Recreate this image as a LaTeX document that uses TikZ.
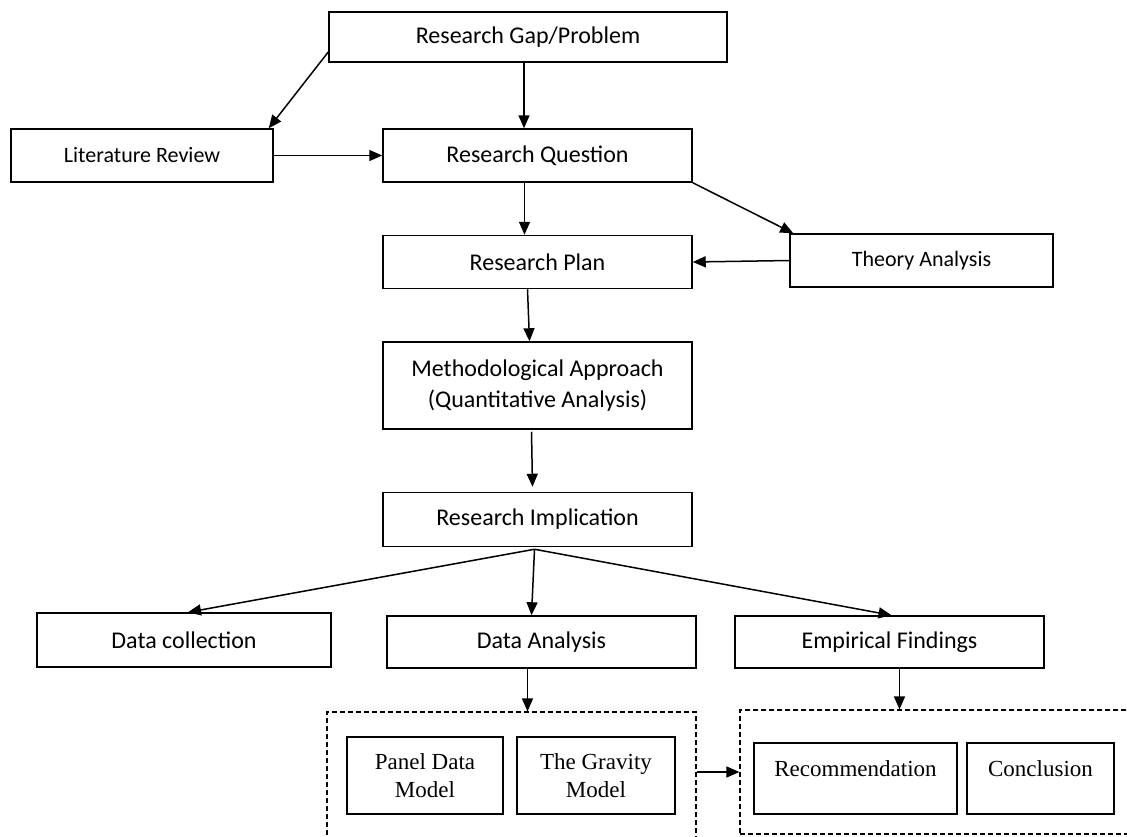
\documentclass[tikz,border=0pt]{standalone}
\usepackage{fontspec}
\setmainfont{Carlito}
\newfontfamily\serifrm{Liberation Serif}
\usetikzlibrary{positioning,arrows.meta}

\begin{document}
\begin{tikzpicture}[
        x=1pt, y=-1pt,
        mainnode/.style={rectangle, draw=black, line width=1.5pt, minimum width=309pt, minimum height=53pt, inner sep=0pt, font=\fontsize{24}{31}\selectfont, align=center},
        sidenode/.style={rectangle, draw=black, line width=1.5pt, minimum width=263pt, minimum height=53pt, inner sep=0pt, font=\fontsize{22}{27}\selectfont},
        modelnode/.style={rectangle, draw=black, line width=1.5pt, minimum height=77pt, inner sep=0pt, font=\serifrm\fontsize{23}{28}\selectfont, align=center},
        groupnode/.style={rectangle, draw=black, line width=1.2pt, dash pattern=on 5pt off 3pt, inner sep=0pt},
        arrowline/.style={-{Triangle[length=13pt,width=11pt]}, line width=1.5pt},
]
        \path[fill=white, use as bounding box] (0,0) rectangle (1127,836);

        \node[mainnode, minimum width=398pt, minimum height=50pt] (gap) at (528,37) {Research Gap/Problem};
        \node[sidenode, minimum width=262pt] (literature) at (142,155.5) {Literature Review};
        \node[mainnode] (question) at (537.5,155.5) {Research Question};
        \node[mainnode] (plan) [below=52pt of question] {Research Plan};
        \node[sidenode] (theory) at (921.5,260.5) {Theory Analysis};
        \node[mainnode, minimum height=87pt] (method) [below=52pt of plan] {Methodological Approach\\(Quantitative Analysis)};
        \node[mainnode, minimum height=54pt] (implication) [below=62pt of method] {Research Implication};
        \node[mainnode, minimum width=294pt, minimum height=54pt] (collection) at (184,640) {Data collection};
        \node[mainnode, minimum height=52pt] (analysis) at (541.5,642) {Data Analysis};
        \node[mainnode, minimum height=52pt] (findings) at (889.5,642) {Empirical Findings};

        \node[groupnode, minimum width=369pt, minimum height=128pt] (analysisgroup) at (511.5,776) {};
        \node[groupnode, minimum width=395pt, minimum height=124pt] (findingsgroup) at (937.5,772) {};

        \node[modelnode, minimum width=156pt] (panel) at (425,775.5) {Panel Data\\Model};
        \node[modelnode, minimum width=158pt] (gravity) at (596,775.5) {The Gravity\\Model};
        \node[modelnode, minimum width=203pt, minimum height=71pt, text height=16pt, text depth=21pt] (recommend) at (855.5,778.5) {Recommendation};
        \node[modelnode, minimum width=147pt, minimum height=71pt, text height=16pt, text depth=21pt] (conclusion) at (1040.5,778.5) {Conclusion};

        \draw[arrowline] ([yshift=-15pt]gap.west) -- ([xshift=-5pt]literature.north east);
        \draw[arrowline] ([xshift=-4pt]gap.south) -- ([xshift=-4pt]gap.south |- question.north);
        \draw[arrowline] (literature.east) -- (question.west);
        \draw[arrowline] ([xshift=-13pt]question.south) -- ([xshift=-13pt]plan.north);
        \draw[arrowline] (question.south east) -- ([xshift=4pt]theory.north west);
        \draw[arrowline] (theory.west) -- (plan.east);
        \draw[arrowline] ([xshift=-10pt]plan.south) -- ([xshift=-8pt]method.north);
        \draw[arrowline] ([xshift=-6pt,yshift=-2pt]method.south) -- ([xshift=-5pt,yshift=5pt]implication.north);
        \draw[arrowline] ([xshift=-3pt,yshift=-2pt]implication.south) -- ([xshift=4pt]collection.north);
        \draw[arrowline] ([xshift=-3pt,yshift=-2pt]implication.south) -- ([xshift=-10pt]analysis.north);
        \draw[arrowline] ([xshift=-3pt,yshift=-2pt]implication.south) -- ([xshift=2pt]findings.north);
        \draw[arrowline] ([xshift=-14pt]analysis.south) -- ([xshift=-14pt]analysis.south |- analysisgroup.north);
        \draw[arrowline] ([xshift=10pt]findings.south) -- ([xshift=10pt]findings.south |- findingsgroup.north);
        \draw[arrowline] (analysisgroup.east |- findingsgroup.west) -- (findingsgroup.west);
    \end{tikzpicture}
\end{document}
